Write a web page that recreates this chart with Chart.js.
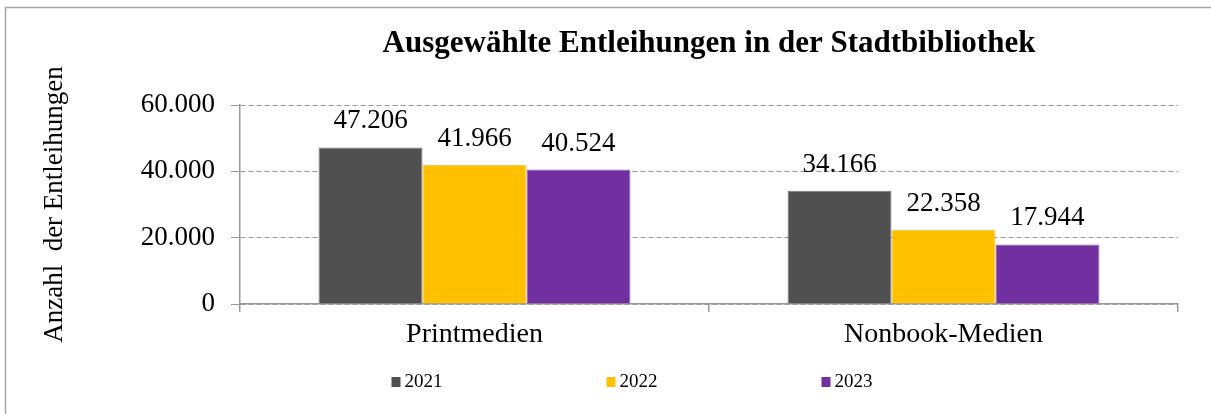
<!DOCTYPE html>
<html>
<head>
<meta charset="utf-8">
<script src="https://cdn.jsdelivr.net/npm/chart.js@4.4.1/dist/chart.umd.min.js"></script>
<style>
  html, body { margin: 0; padding: 0; background: #fff; overflow: hidden; }
  #wrap { position: absolute; left: 0; top: 0; width: 1211px; height: 414px; }
</style>
</head>
<body>
<div id="wrap"><canvas id="chart"></canvas></div>
<script>
// DATA
const categories = ["Printmedien", "Nonbook-Medien"];
const years = ["2021", "2022", "2023"];
const values2021 = [47206, 34166];
const values2022 = [41966, 22358];
const values2023 = [40524, 17944];
const yTicks = [0, 20000, 40000, 60000];

const colors = ["#505050", "#FFC000", "#7030A0"];
const serif = "'Liberation Serif', 'Times New Roman', serif";

// 47206 -> "47.206"
function fmt(v) {
    return String(v).replace(/\B(?=(\d{3})+(?!\d))/g, ".");
}

// grey frame round the chart (only left and top edges are in the picture)
const frame = {
    id: "frame",
    beforeDraw(chart) {
        const ctx = chart.ctx;
        ctx.save();
        ctx.strokeStyle = "#a6a6a6";
        ctx.lineWidth = 1.5;
        ctx.beginPath();
        ctx.moveTo(5.5, chart.height);
        ctx.lineTo(5.5, 7.5);
        ctx.lineTo(chart.width, 7.5);
        ctx.stroke();
        ctx.restore();
    }
};

// value labels over the bars
const barLabels = {
    id: "barLabels",
    afterDatasetsDraw(chart) {
        const ctx = chart.ctx;
        ctx.save();
        ctx.font = "27px " + serif;
        ctx.fillStyle = "#000";
        ctx.textAlign = "center";
        ctx.textBaseline = "alphabetic";
        chart.data.datasets.forEach((ds, i) => {
            chart.getDatasetMeta(i).data.forEach((bar, j) => {
                ctx.fillText(fmt(ds.data[j]), bar.x, bar.y - 19);
            });
        });
        ctx.restore();
    }
};

// legend row at the bottom
const bottomLegend = {
    id: "bottomLegend",
    afterDraw(chart) {
        const ctx = chart.ctx;
        const left = chart.width / 2 - 214;
        ctx.save();
        ctx.font = "19px " + serif;
        ctx.textBaseline = "middle";
        ctx.textAlign = "left";
        chart.data.datasets.forEach((ds, i) => {
            const x = left + i * 215;
            ctx.fillStyle = ds.backgroundColor;
            ctx.fillRect(x, 377, 9, 10);
            ctx.fillStyle = "#000";
            ctx.fillText(ds.label, x + 13, 382);
        });
        ctx.restore();
    }
};

const ctx = document.getElementById("chart").getContext("2d");

new Chart(ctx, {
    type: "bar",
    data: {
        labels: categories,
        datasets: [
            { label: years[0], data: values2021, backgroundColor: colors[0], borderColor: "#7a7a7a", borderWidth: 1 },
            { label: years[1], data: values2022, backgroundColor: colors[1], borderColor: "#f5c040", borderWidth: 1 },
            { label: years[2], data: values2023, backgroundColor: colors[2], borderColor: "#8a5ab5", borderWidth: 1 }
        ]
    },
    options: {
        responsive: true,
        maintainAspectRatio: false,
        animation: false,
        devicePixelRatio: 1,
        layout: { padding: { left: 0, right: 33, top: 0, bottom: 0 } },
        datasets: {
            bar: { categoryPercentage: 0.665, barPercentage: 1 }
        },
        plugins: {
            legend: { display: false },
            tooltip: { enabled: false },
            title: {
                display: true,
                text: "Ausgewählte Entleihungen in der Stadtbibliothek",
                fullSize: false,
                color: "#000",
                font: { family: serif, size: 31, weight: "bold" },
                padding: { top: 25, bottom: 42.8 }
            }
        },
        scales: {
            x: {
                afterFit(scale) { scale.height = 110; },
                grid: {
                    drawOnChartArea: false,
                    drawTicks: true,
                    tickLength: 8,
                    color: "#999",
                    lineWidth: 1.5
                },
                border: { color: "#999", width: 1.5 },
                ticks: {
                    color: "#000",
                    padding: 6,
                    font: { family: serif, size: 28 }
                }
            },
            y: {
                min: yTicks[0],
                max: yTicks[yTicks.length - 1],
                afterFit(scale) { scale.width = 240; },
                afterBuildTicks(scale) {
                    scale.ticks = yTicks.map(v => ({ value: v }));
                },
                grid: {
                    color: "#999",
                    lineWidth: 1,
                    tickLength: 9
                },
                border: { color: "#999", width: 1.5, dash: [5, 3] },
                ticks: {
                    color: "#000",
                    padding: 16,
                    font: { family: serif, size: 27 },
                    callback: v => fmt(v)
                },
                title: {
                    display: true,
                    text: "Anzahl  der Entleihungen",
                    color: "#000",
                    font: { family: serif, size: 27 },
                    padding: { top: 39, bottom: 0 }
                }
            }
        }
    },
    plugins: [frame, barLabels, bottomLegend]
});
</script>
</body>
</html>
